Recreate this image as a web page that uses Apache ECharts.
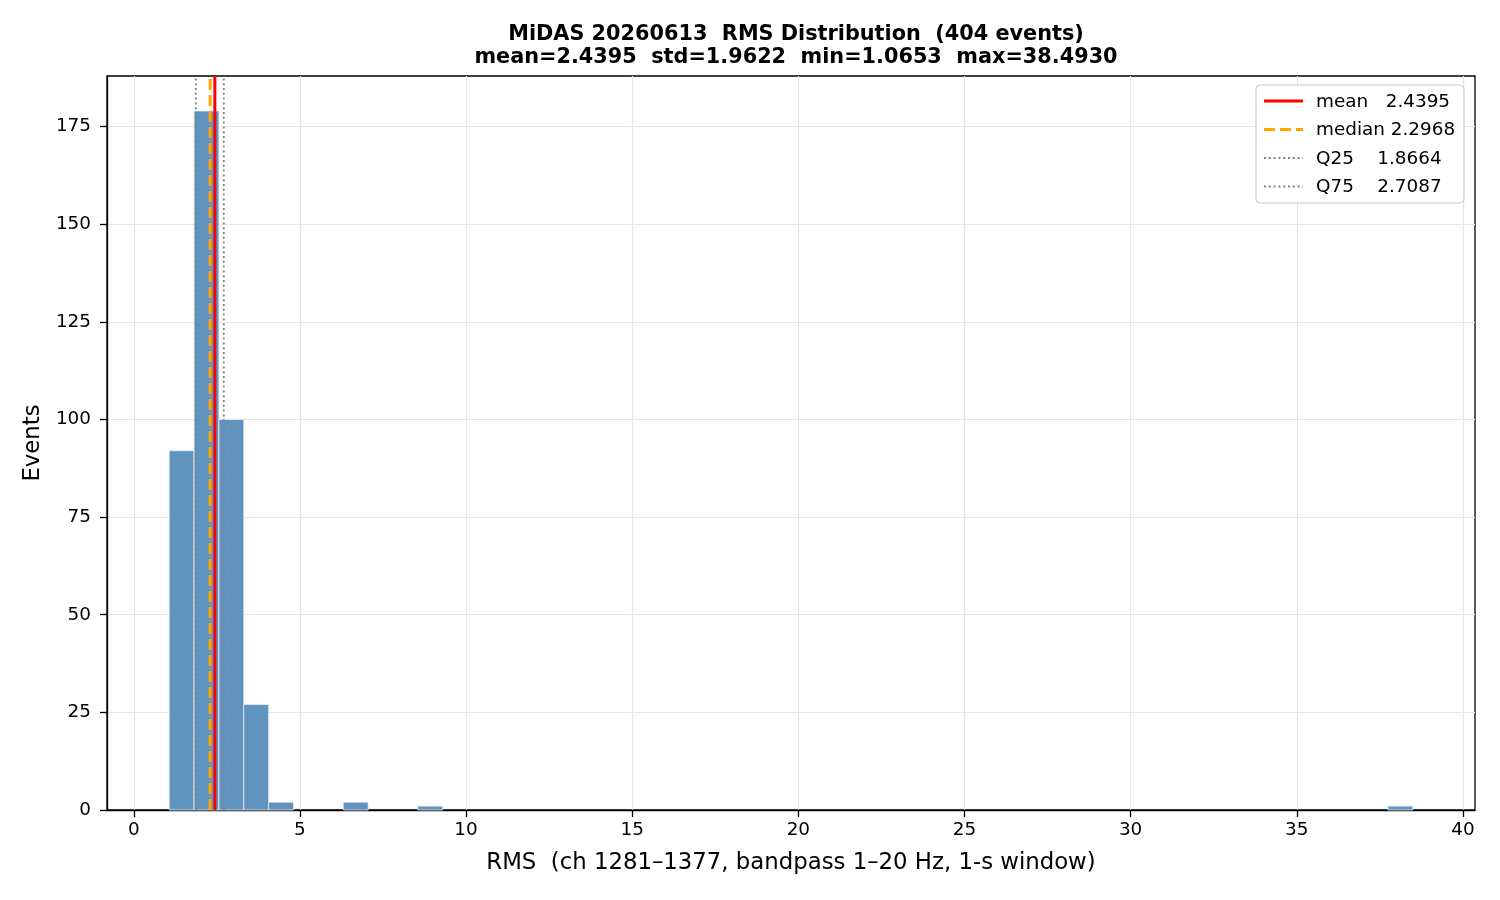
<!DOCTYPE html>
<html>
<head>
<meta charset="utf-8">
<script src="https://cdn.jsdelivr.net/npm/echarts@6/dist/echarts.min.js"></script>
<style>
  html, body { margin: 0; padding: 0; background: #fff; }
  #main { width: 1500px; height: 900px; }
</style>
</head>
<body>
<div id="main"></div>
<script>
// histogram: 50 bins between min and max RMS
var rmsMin = 1.0653;
var rmsMax = 38.4930;
var binCount = 50;
var counts = [92, 179, 100, 27, 2, 0, 0, 2, 0, 0,
              1, 0, 0, 0, 0, 0, 0, 0, 0, 0,
              0, 0, 0, 0, 0, 0, 0, 0, 0, 0,
              0, 0, 0, 0, 0, 0, 0, 0, 0, 0,
              0, 0, 0, 0, 0, 0, 0, 0, 0, 1];

// summary stats (vertical lines + legend)
var statNames = ['mean', 'median', 'Q25', 'Q75'];
var statValues = [2.4395, 2.2968, 1.8664, 2.7087];
var statLabels = ['mean   2.4395', 'median 2.2968', 'Q25    1.8664', 'Q75    2.7087'];

var xTicks = [0, 5, 10, 15, 20, 25, 30, 35, 40];
var yTicks = [0, 25, 50, 75, 100, 125, 150, 175];

var FONT = 'DejaVu Sans';
var binWidth = (rmsMax - rmsMin) / binCount;
var bars = [];
for (var i = 0; i < counts.length; i++) {
    if (counts[i] > 0) {
        bars.push([rmsMin + i * binWidth, rmsMin + (i + 1) * binWidth, counts[i]]);
    }
}
// matplotlib-like 5% margins
var xPad = (rmsMax - rmsMin) * 0.05;
var yTop = Math.max.apply(null, counts) * 1.05;

var lineStyles = [
    { color: '#ff0000', width: 3, type: 'solid' },
    { color: '#ffa500', width: 3, type: [11, 5] },
    { color: '#808080', width: 1.8, type: [2, 2.8] },
    { color: '#808080', width: 1.8, type: [2, 2.8] }
];

var myChart = echarts.init(document.getElementById('main'));

// legend drawn by hand so the dashed/dotted samples look right
var legendX = 1256, legendY = 85, rowH = 28.5;
var legendItems = [{
    type: 'rect',
    shape: { x: legendX, y: legendY, width: 208, height: 118, r: 4 },
    style: { fill: 'rgba(255,255,255,0.85)', stroke: '#cccccc', lineWidth: 1.2 },
    z: 100
}];
for (var k = 0; k < statNames.length; k++) {
    var cy = legendY + 16 + k * rowH;
    legendItems.push({
        type: 'line',
        shape: { x1: legendX + 8, y1: cy, x2: legendX + 47, y2: cy },
        style: { stroke: lineStyles[k].color, lineWidth: lineStyles[k].width,
                 lineDash: lineStyles[k].type === 'solid' ? null : lineStyles[k].type },
        z: 101
    });
    legendItems.push({
        type: 'text',
        x: legendX + 60, y: cy + 1,
        style: { text: statLabels[k], font: '18.4px "' + FONT + '"', fill: '#000',
                 verticalAlign: 'middle', align: 'left' },
        z: 101
    });
}

// histogram bars
var seriesList = [{
    type: 'custom',
    name: 'hist',
    data: bars,
    encode: { x: [0, 1], y: 2 },
    renderItem: function (params, api) {
        var p0 = api.coord([api.value(0), api.value(2)]);
        var p1 = api.coord([api.value(1), 0]);
        return {
            type: 'rect',
            shape: { x: p0[0], y: p0[1], width: p1[0] - p0[0], height: p1[1] - p0[1] },
            style: { fill: '#6193bf', stroke: '#e8eef5', lineWidth: 0.8 }
        };
    },
    z: 2
}];
// vertical stat lines (axvline)
statValues.forEach(function (v, k) {
    seriesList.push({
        type: 'line',
        name: statNames[k],
        data: [[v, 0], [v, yTop]],
        symbol: 'none',
        silent: true,
        lineStyle: { color: lineStyles[k].color, width: lineStyles[k].width, type: lineStyles[k].type, opacity: 1 },
        z: 5 + k
    });
});

option = {
    backgroundColor: '#fff',
    animation: false,
    title: {
        text: 'MiDAS 20260613  RMS Distribution  (404 events)\nmean=2.4395  std=1.9622  min=1.0653  max=38.4930',
        left: 791,
        textAlign: 'center',
        top: 18,
        textStyle: { fontFamily: FONT, fontSize: 20.8, fontWeight: 'bold', color: '#000', lineHeight: 23 }
    },
    grid: {
        left: 107, right: 25, top: 76, bottom: 90,
        show: true, borderColor: '#000', borderWidth: 1.3,
        backgroundColor: 'transparent'
    },
    xAxis: {
        type: 'value',
        min: rmsMin - xPad,
        max: rmsMax + xPad,
        name: 'RMS  (ch 1281–1377, bandpass 1–20 Hz, 1-s window)',
        nameLocation: 'middle',
        nameGap: 42,
        nameTextStyle: { fontFamily: FONT, fontSize: 22.8, color: '#000' },
        axisLine: { show: true, onZero: false, lineStyle: { color: '#000', width: 1.3 } },
        axisTick: { show: true, length: 7, lineStyle: { color: '#000', width: 1.3 }, customValues: xTicks },
        axisLabel: { fontFamily: FONT, fontSize: 18.4, color: '#000', margin: 11, customValues: xTicks },
        splitLine: { show: true, lineStyle: { color: '#e6e6e6', width: 1.2 } }
    },
    yAxis: {
        type: 'value',
        min: 0,
        max: yTop,
        name: 'Events',
        nameLocation: 'middle',
        nameGap: 61,
        nameTextStyle: { fontFamily: FONT, fontSize: 22.8, color: '#000' },
        axisLine: { show: true, onZero: false, lineStyle: { color: '#000', width: 1.3 } },
        axisTick: { show: true, length: 7, lineStyle: { color: '#000', width: 1.3 }, customValues: yTicks },
        axisLabel: { fontFamily: FONT, fontSize: 18.4, color: '#000', margin: 16, customValues: yTicks },
        splitLine: { show: true, lineStyle: { color: '#e6e6e6', width: 1.2 } }
    },
    graphic: legendItems,
    series: seriesList
};
myChart.setOption(option);
</script>
</body>
</html>
